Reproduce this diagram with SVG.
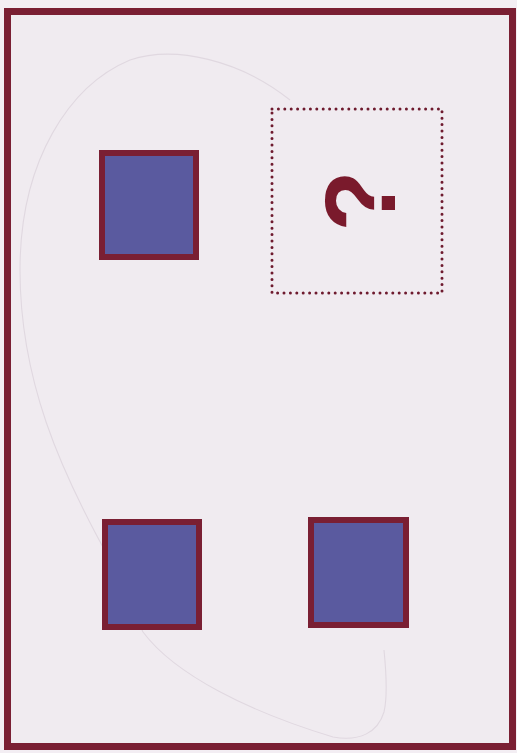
<svg xmlns="http://www.w3.org/2000/svg" width="517" height="753" viewBox="0 0 517 753">
  <style>
    .sq { fill: #5a5a9f; stroke: #7a1f33; stroke-width: 6; }
    .frame { fill: #f0ebf0; stroke: #7a1f33; stroke-width: 7; }
    .dots { fill: none; stroke: #6e1a2e; stroke-width: 3; stroke-linecap: round; stroke-dasharray: 0 6.4; }
    .faint { fill: none; stroke: #e0d8e0; stroke-width: 1.1; }
    .q { font-family: "Liberation Sans", Arial, sans-serif; font-weight: bold; font-size: 100px; fill: #7a1a2c; }
  </style>
  <rect x="0" y="0" width="517" height="753" fill="#f3eef3"/>
  <rect class="frame" x="7.5" y="11.5" width="505" height="735"/>
  <g id="connectors">
    <path class="faint" d="M 290 100 C 240 60, 175 45, 130 60 C 70 85, 20 160, 20 270 C 20 380, 60 470, 110 560 C 125 590, 135 615, 143 632 C 175 675, 250 712, 333 737 C 360 742, 378 732, 384 712 C 388 695, 386 670, 384 650"/>
  </g>
  <g id="node-a">
    <rect class="sq" x="102" y="153" width="94" height="104"/>
  </g>
  <g id="node-unknown">
    <rect class="dots" x="272" y="109" width="170" height="184"/>
    <text class="q" transform="translate(395 201) rotate(-90)" text-anchor="middle">?</text>
  </g>
  <g id="node-b">
    <rect class="sq" x="105" y="522" width="94" height="105"/>
  </g>
  <g id="node-c">
    <rect class="sq" x="311" y="520" width="95" height="105"/>
  </g>
</svg>
